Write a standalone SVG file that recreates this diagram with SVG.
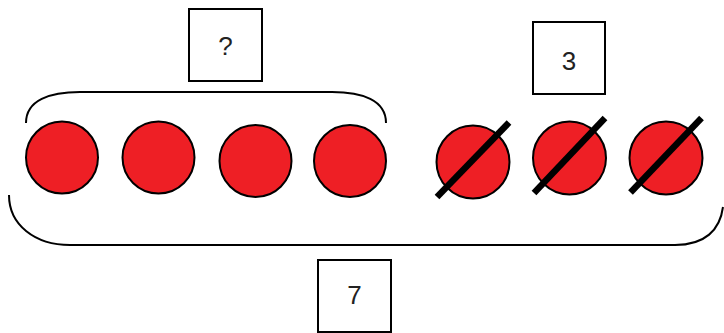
<svg xmlns="http://www.w3.org/2000/svg" width="724" height="333" viewBox="0 0 724 333">
<style>
.box{fill:#fff;stroke:#000;stroke-width:2}
.lbl{font-family:"Liberation Sans",Arial,sans-serif;font-size:26px;fill:#222;text-anchor:middle;dominant-baseline:central}
.dot{fill:#EE1F25;stroke:#000;stroke-width:2}
.slash{stroke:#000;stroke-width:6.5;stroke-linecap:butt}
.brace{fill:none;stroke:#000;stroke-width:2}
</style>
<rect width="724" height="333" fill="#fff"/>
<g id="connectors">
<path class="brace" d="M26,123 C26,100 50,92 80,92 L332,92 C362,92 386,100 386,123"/>
<path class="brace" d="M9,195 C9,225 35,245 70,245 L675,245 C705,245 720,230 723,207"/>
</g>
<g id="box-unknown"><rect class="box" x="189" y="9" width="73" height="72"/><text class="lbl" x="225.5" y="46">?</text></g>
<g id="box-three"><rect class="box" x="533" y="22" width="72" height="72"/><text class="lbl" x="569" y="61">3</text></g>
<g id="box-seven"><rect class="box" x="318" y="260" width="73" height="72"/><text class="lbl" x="354.5" y="295">7</text></g>
<g id="dot1"><circle class="dot" cx="62" cy="157.5" r="36"/></g>
<g id="dot2"><circle class="dot" cx="158.5" cy="157.5" r="36"/></g>
<g id="dot3"><circle class="dot" cx="255.5" cy="161" r="36"/></g>
<g id="dot4"><circle class="dot" cx="350" cy="161" r="36"/></g>
<g id="dot5"><circle class="dot" cx="473" cy="162" r="36.5"/><line class="slash" x1="437" y1="197" x2="509" y2="122.5"/></g>
<g id="dot6"><circle class="dot" cx="569.5" cy="158" r="36.5"/><line class="slash" x1="534" y1="193" x2="605" y2="118"/></g>
<g id="dot7"><circle class="dot" cx="666" cy="158" r="36.5"/><line class="slash" x1="630.5" y1="192.5" x2="701.5" y2="118"/></g>
</svg>
